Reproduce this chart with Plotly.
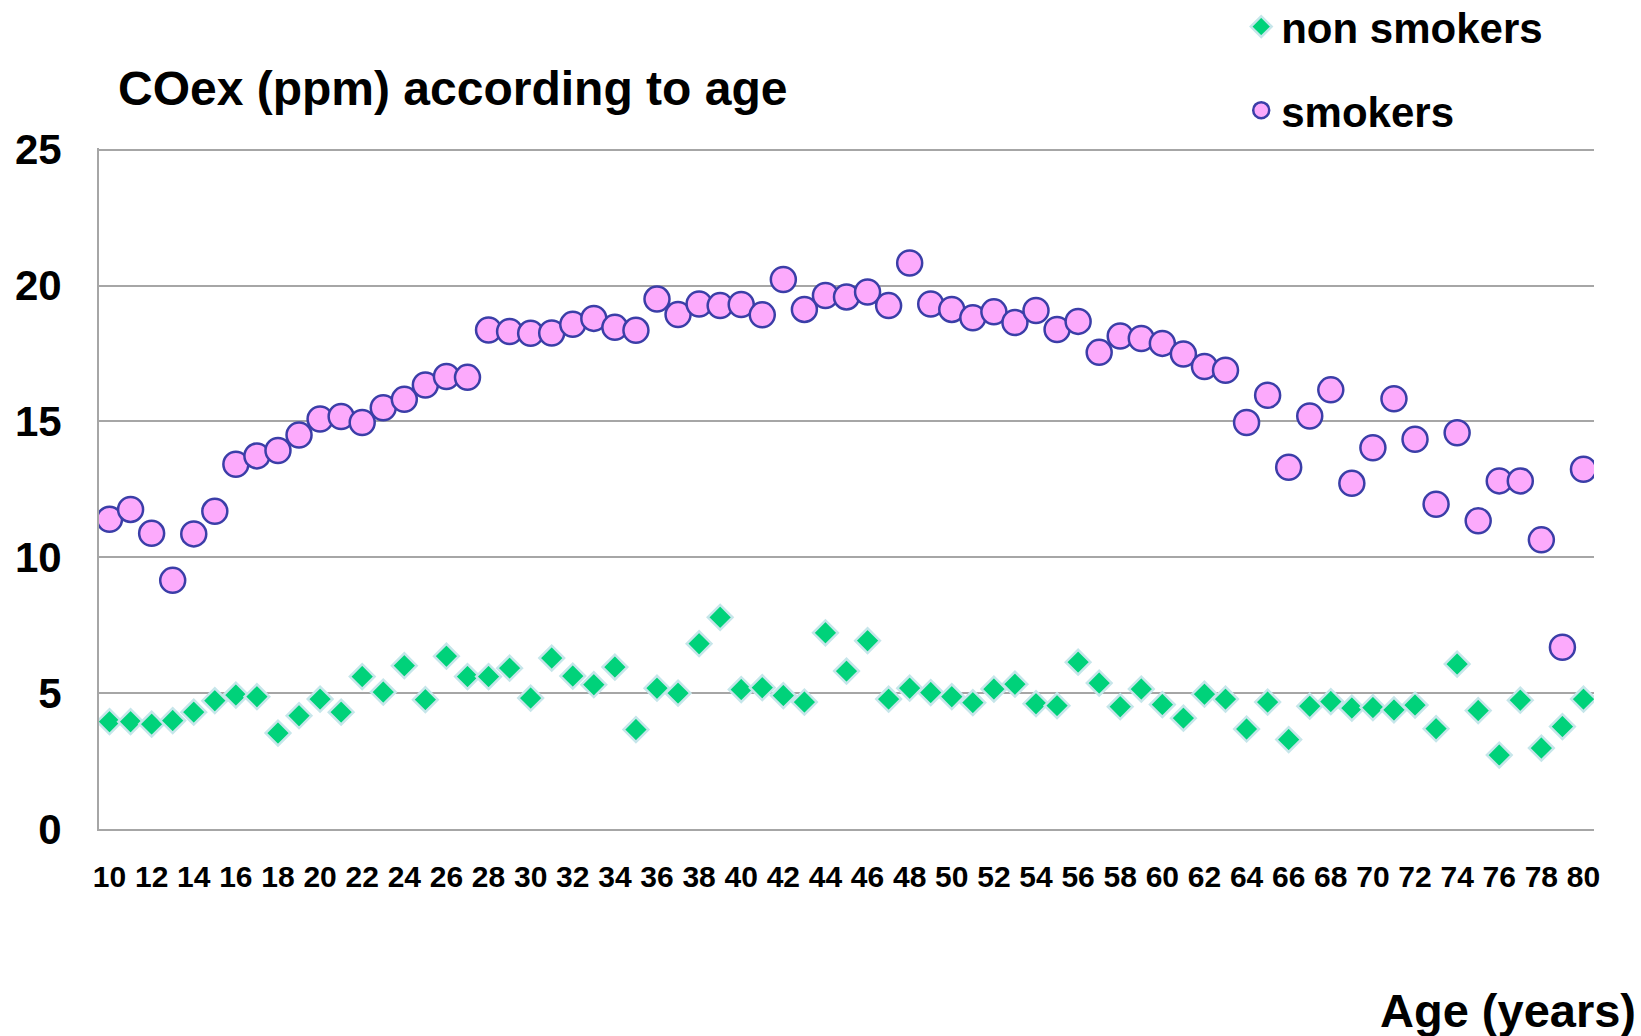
import plotly.graph_objects as go

ages = list(range(10, 81))

smokers = [
    11.40, 11.76, 10.88, 9.15, 10.86, 11.69, 13.42, 13.73, 13.93, 14.50,
    15.09, 15.18, 14.96, 15.50, 15.81, 16.34, 16.65, 16.62, 18.36, 18.31,
    18.24, 18.25, 18.57, 18.79, 18.46, 18.35, 19.50, 18.93, 19.32, 19.26,
    19.30, 18.92, 20.22, 19.12, 19.63, 19.58, 19.76, 19.26, 20.83, 19.32,
    19.12, 18.81, 19.03, 18.64, 19.08, 18.38, 18.68, 17.54, 18.14, 18.05,
    17.87, 17.48, 17.02, 16.88, 14.96, 15.96, 13.31, 15.20, 16.16, 12.72,
    14.03, 15.83, 14.34, 11.95, 14.58, 11.34, 12.81, 12.81, 10.64, 6.69,
    13.24,
]

non_smokers = [
    3.95, 3.95, 3.86, 3.99, 4.30, 4.72, 4.93, 4.87, 3.53, 4.17,
    4.78, 4.30, 5.61, 5.04, 6.01, 4.76, 6.36, 5.61, 5.61, 5.92,
    4.82, 6.29, 5.63, 5.31, 5.96, 3.66, 5.18, 5.00, 6.82, 7.79,
    5.13, 5.20, 4.91, 4.67, 7.22, 5.81, 6.93, 4.78, 5.18, 5.02,
    4.87, 4.65, 5.15, 5.33, 4.61, 4.54, 6.14, 5.37, 4.50, 5.15,
    4.58, 4.08, 4.96, 4.78, 3.68, 4.67, 3.29, 4.52, 4.69, 4.45,
    4.47, 4.38, 4.56, 3.69, 6.07, 4.36, 2.72, 4.74, 2.98, 3.77,
    4.78,
]

x_ticks = list(range(10, 81, 2))
y_ticks = [0, 5, 10, 15, 20, 25]

title_text = "COex (ppm) according to age"
x_title = "Age (years)"

FONT = "Liberation Sans, Arial, sans-serif"
GRID = "#a6a6a6"

W, H = 1641, 1036
Y_TOP = 25.06
L, R, T, B = 99.4, 47.4, 148.2, 207.0
PW = W - L - R
PH = H - T - B

fig = go.Figure()
fig.add_trace(go.Scatter(
    x=ages, y=non_smokers, mode="markers", name="non smokers",
    legendgroup="a",
    marker=dict(symbol="diamond", size=19, color="#00d27a",
                line=dict(color="#c6e6ea", width=2.5)),
))
fig.add_trace(go.Scatter(
    x=ages, y=smokers, mode="markers", name="smokers",
    legendgroup="b",
    marker=dict(symbol="circle", size=25, color="#fcaafc",
                line=dict(color="#3b3ea8", width=2.5)),
))

fig.update_layout(
    width=W, height=H,
    margin=dict(l=L, r=R, t=T, b=B, autoexpand=False),
    paper_bgcolor="white", plot_bgcolor="white",
    font=dict(family=FONT, color="black", weight="bold"),
    title=dict(text=title_text, x=118 / W, xanchor="left",
               y=1 - 88 / H, yanchor="middle", xref="container", yref="container",
               font=dict(size=48, family=FONT, weight="bold", color="black")),
    showlegend=True,
    legend=dict(
        x=(1241 - L) / PW, xanchor="left",
        y=(H - B + 7) / PH, yanchor="top",
        font=dict(size=42, family=FONT, weight="bold", color="black"),
        bgcolor="rgba(0,0,0,0)", traceorder="grouped", tracegroupgap=26,
    ),
    xaxis=dict(
        range=[9.5, 80.5], tickvals=x_ticks, ticktext=[str(v) for v in x_ticks],
        showgrid=False, zeroline=False, showline=True, linecolor=GRID, linewidth=2,
        ticks="", ticklabelstandoff=20,
        tickfont=dict(size=30, family=FONT, weight="bold", color="black"),
    ),
    yaxis=dict(
        range=[0, Y_TOP], tickvals=y_ticks, showgrid=True, gridcolor=GRID, gridwidth=2,
        zeroline=False, showline=True, linecolor=GRID, linewidth=2,
        ticks="", ticklabelstandoff=27,
        tickfont=dict(size=42, family=FONT, weight="bold", color="black"),
    ),
    annotations=[dict(
        text=x_title, xref="paper", yref="paper",
        x=(1638 - L) / PW, xanchor="right",
        y=(H - B - 1010) / PH, yanchor="middle", showarrow=False,
        font=dict(size=47, family=FONT, weight="bold", color="black"),
    )],
)

fig.write_html(
    "out.html",
    config={"displayModeBar": False},
    post_script="document.body.style.margin='0';document.body.style.overflow='hidden';",
)
